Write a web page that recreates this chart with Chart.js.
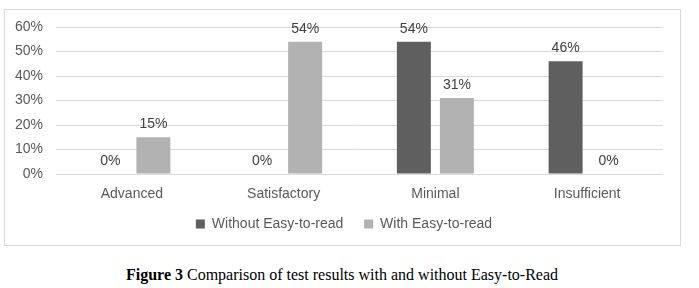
<!DOCTYPE html>
<html>
<head>
<meta charset="utf-8">
<script src="https://cdn.jsdelivr.net/npm/chart.js@4/dist/chart.umd.min.js"></script>
<style>
  body { margin: 0; background: #fff; width: 699px; height: 288px; position: relative; overflow: hidden; }
  #box { position: absolute; left: 4px; top: 9px; width: 675px; height: 235px; border: 1px solid #d9d9d9; }
  #caption { position: absolute; left: 0; top: 266px; width: 684px; text-align: center;
    font-family: "Liberation Serif", "Times New Roman", serif; font-size: 16px; color: #000; }
</style>
</head>
<body>
<div id="box"><canvas id="resultsChart" width="675" height="235"></canvas></div>
<div id="caption"><b>Figure 3</b> Comparison of test results with and without Easy-to-Read</div>
<script>
// data (percent)
var categories = ['Advanced', 'Satisfactory', 'Minimal', 'Insufficient'];
var withoutEasy = [0, 0, 54, 46];
var withEasy = [15, 54, 31, 0];
var seriesNames = ['Without Easy-to-read', 'With Easy-to-read'];

var axisFont = { family: '"Liberation Sans", Arial, sans-serif', size: 14 };

// value labels above each bar
var barLabels = {
    id: 'barLabels',
    afterDatasetsDraw: function(chart) {
        var ctx = chart.ctx;
        ctx.save();
        ctx.font = '14px "Liberation Sans", Arial, sans-serif';
        ctx.fillStyle = '#404040';
        ctx.textAlign = 'center';
        ctx.textBaseline = 'middle';
        chart.data.datasets.forEach(function(ds, i) {
            chart.getDatasetMeta(i).data.forEach(function(bar, j) {
                ctx.fillText(ds.data[j] + '%', bar.x, bar.y - 13);
            });
        });
        ctx.restore();
    }
};

// nudge the legend a little to the right, like the original
var legendShift = {
    id: 'legendShift',
    afterLayout: function(chart) {
        chart.legend.left += 10;
        chart.legend.right += 10;
    }
};

var ctx = document.getElementById('resultsChart').getContext('2d');
var myChart = new Chart(ctx, {
    type: 'bar',
    data: {
        labels: categories,
        datasets: [{
            label: seriesNames[0],
            data: withoutEasy,
            backgroundColor: '#5f5f5f'
        }, {
            label: seriesNames[1],
            data: withEasy,
            backgroundColor: '#b2b2b2'
        }]
    },
    options: {
        responsive: false,
        animation: false,
        datasets: {
            bar: { categoryPercentage: 0.567, barPercentage: 0.79 }
        },
        layout: { padding: { top: 17, right: 17, bottom: 4, left: 0 } },
        plugins: {
            tooltip: { enabled: false },
            legend: {
                position: 'bottom',
                labels: {
                    boxWidth: 9,
                    boxHeight: 9,
                    padding: 13,
                    color: '#595959',
                    font: axisFont,
                    // a bit more room between the two legend entries
                    generateLabels: function(chart) {
                        var items = Chart.defaults.plugins.legend.labels.generateLabels(chart);
                        items[0].text += '  ';
                        return items;
                    }
                }
            }
        },
        scales: {
            x: {
                grid: { display: false, drawTicks: false },
                border: { display: false },
                afterFit: function(scale) { scale.height = 30; },
                ticks: { color: '#595959', font: axisFont, padding: 12 }
            },
            y: {
                min: 0,
                max: 60,
                grid: { color: '#d9d9d9', drawTicks: false },
                border: { display: false },
                afterFit: function(scale) {
                    scale.width = 51;
                    scale.paddingTop = 0;
                    scale.paddingBottom = 0;
                },
                ticks: {
                    stepSize: 10,
                    padding: 13,
                    color: '#595959',
                    font: axisFont,
                    callback: function(v) { return v + '%'; }
                }
            }
        }
    },
    plugins: [barLabels, legendShift]
});
</script>
</body>
</html>
